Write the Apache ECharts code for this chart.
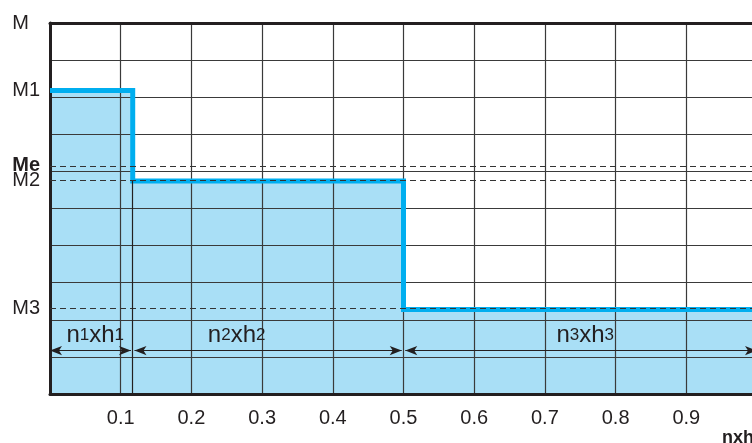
<!DOCTYPE html>
<html><head><meta charset="utf-8">
<script src="https://cdn.jsdelivr.net/npm/echarts@6/dist/echarts.min.js"></script>
<style>html,body{margin:0;padding:0;background:#fff}#c{width:752px;height:443px}</style>
</head><body><div id="c"></div>
<script>
// ---- data ----
const stepX = [0, 0.117, 0.5, 1.0];          // boundaries n1xh1 | n2xh2 | n3xh3
const stepM = [8.18, 5.74, 2.28];            // M1, M2, M3
const refNames = ['Me', 'M2', 'M3'];          // dashed reference lines
const refValues = [6.15, 5.76, 2.3];
const levelNames = ['M', 'M1'];               // labels without dashed line
const levelValues = [10, 8.18];
const segLabels = [['n','1','xh','1'], ['n','2','xh','2'], ['n','3','xh','3']];
const segLabelX = [0.064, 0.264, 0.757];
const segLabelY = 1.58;
const arrowY = 1.17;
const xTickLabels = ['', '0.1', '0.2', '0.3', '0.4', '0.5', '0.6', '0.7', '0.8', '0.9', '1'];
const xName = 'nxh';

// ---- styling ----
const FONT = '"Liberation Sans", Arial, Helvetica, sans-serif';
const INK = '#231f20';
const FILL = '#a9dff6';
const BLUE = '#00aeef';
const labelShift = {M: -3, M1: -7, Me: -3, M2: 3, M3: 3};
const labelDist = {M: 21, M1: 10, Me: 10, M2: 10, M3: 10};
function pad(name) {
  const s = labelShift[name] || 0;
  return s < 0 ? [0, 0, -2 * s, 0] : [2 * s, 0, 0, 0];
}

const stepData = stepX.map((x, i) => [x, stepM[Math.min(i, stepM.length - 1)]]);

const levelLines = levelNames.map((n, i) => [
  {coord: [0, levelValues[i]], lineStyle: {color: 'rgba(0,0,0,0)', width: 0},
   label: {show: true, position: 'start', formatter: n, distance: labelDist[n], padding: pad(n),
           fontSize: 20, color: INK, fontFamily: FONT}},
  {coord: [1, levelValues[i]]}
]);
const refLines = refNames.map((n, i) => [
  {coord: [0, refValues[i]],
   label: {show: true, position: 'start', formatter: n, distance: labelDist[n], padding: pad(n),
           fontSize: 20, color: INK, fontFamily: FONT, fontWeight: n === 'Me' ? 'bold' : 'normal'}},
  {coord: [1, refValues[i]]}
]);
const gap = 0.0025;
const arrows = [];
for (let i = 0; i < stepX.length - 1; i++) {
  const a = i === 0 ? stepX[i] : stepX[i] + gap;
  const b = i === stepX.length - 2 ? stepX[i + 1] : stepX[i + 1] - gap;
  arrows.push([{coord: [a, arrowY]}, {coord: [b, arrowY]}]);
}
const segPoints = segLabels.map((p, i) => ({
  coord: [segLabelX[i], segLabelY],
  label: {formatter: `{a|${p[0]}}{b|${p[1]}}{a|${p[2]}}{b|${p[3]}}`}
}));

const chart = echarts.init(document.getElementById('c'), null, {renderer: 'canvas'});
chart.setOption({
  animation: false,
  backgroundColor: '#fff',
  title: {text: xName, left: 717, top: 424,
          textStyle: {fontFamily: FONT, fontSize: 18, fontWeight: 'bold', color: INK}},
  grid: {left: 50, top: 23, width: 707, height: 371, outerBoundsMode: 'none', containLabel: false},
  xAxis: [{
    type: 'value', min: 0, max: 1, interval: 0.1, z: 2,
    axisLine: {show: true, onZero: false, lineStyle: {color: INK, width: 3}},
    axisTick: {show: false},
    splitLine: {show: true, lineStyle: {color: '#3a3a3a', width: 1.2}},
    axisLabel: {margin: 14, fontSize: 20, color: INK, fontFamily: FONT,
                formatter: v => xTickLabels[Math.round(v * 10)] || ''}
  }, {
    type: 'value', position: 'top', min: 0, max: 1, interval: 0.1, z: 2,
    axisLine: {show: true, onZero: false, lineStyle: {color: INK, width: 3}},
    axisTick: {show: false}, axisLabel: {show: false}, splitLine: {show: false}
  }],
  yAxis: {
    type: 'value', min: 0, max: 10, interval: 1, z: 2,
    axisLine: {show: true, onZero: false, lineStyle: {color: INK, width: 3}},
    axisTick: {show: false}, axisLabel: {show: false},
    splitLine: {show: true, lineStyle: {color: '#3a3a3a', width: 1.2}}
  },
  series: [{
    type: 'line', step: 'end', data: stepData, z: 1, symbol: 'none', silent: true,
    lineStyle: {width: 0}, areaStyle: {color: FILL, opacity: 1, origin: 'start'}
  }, {
    type: 'line', step: 'end', data: stepData, z: 3, symbol: 'none', silent: true,
    lineStyle: {width: 5, color: BLUE, cap: 'butt', join: 'miter'},
    markLine: {
      silent: true, symbol: ['none', 'none'], animation: false,
      lineStyle: {color: '#333', type: [6, 4], width: 1.1},
      data: levelLines.concat(refLines).concat([
        [{coord: [stepX[1], 0], lineStyle: {type: 'solid', color: INK, width: 1.2}, label: {show: false}},
         {coord: [stepX[1], stepM[1]]}]
      ])
    }
  }, {
    type: 'line', data: [], z: 4, symbol: 'none', silent: true,
    markLine: {
      silent: true, symbol: ['arrow', 'arrow'], symbolSize: [7, 12], animation: false,
      lineStyle: {color: INK, type: 'solid', width: 1},
      label: {show: false},
      data: arrows
    },
    markPoint: {
      silent: true, symbol: 'circle', symbolSize: 1, itemStyle: {color: 'rgba(0,0,0,0)'}, animation: false,
      label: {show: true, position: 'inside', color: INK, fontFamily: FONT,
              rich: {a: {fontSize: 24, color: INK, fontFamily: FONT},
                     b: {fontSize: 17, color: INK, fontFamily: FONT}}},
      data: segPoints
    }
  }]
});
</script></body></html>
